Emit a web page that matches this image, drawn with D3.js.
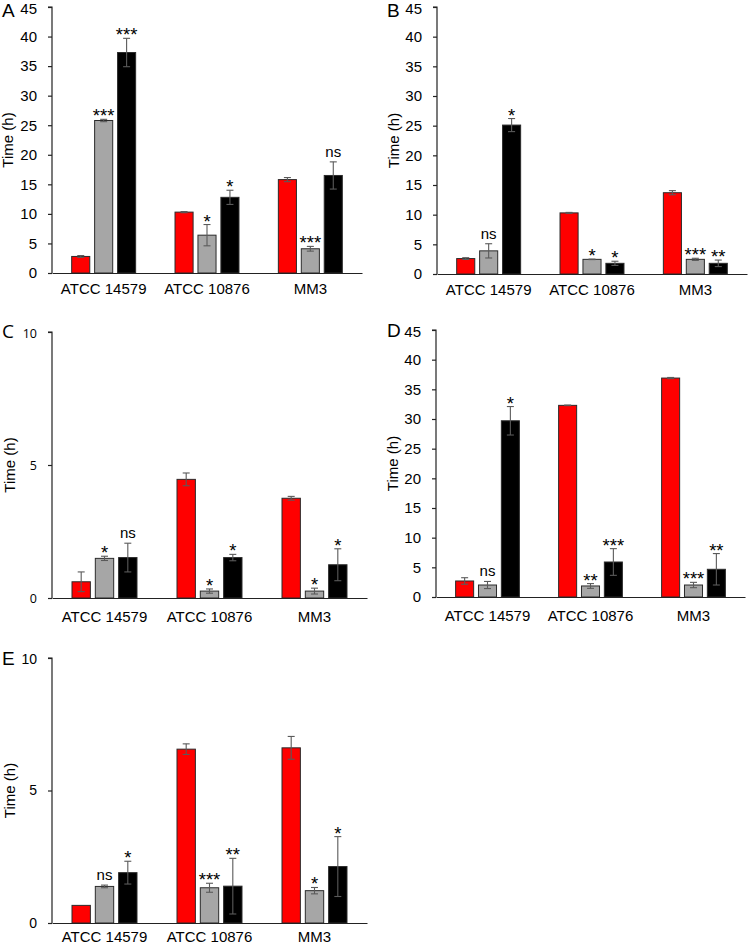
<!DOCTYPE html>
<html>
<head>
<meta charset="utf-8">
<script src="https://cdn.jsdelivr.net/npm/d3@7/dist/d3.min.js"></script>
<style>
  html, body { margin: 0; padding: 0; background: #fff; }
  svg { display: block; }
</style>
</head>
<body>
<svg id="chart" width="750" height="948"></svg>
<script>
// ---------- data ----------
const categories = ["ATCC 14579", "ATCC 10876", "MM3"];
const seriesNames = ["red", "gray", "black"];
const ticks45 = [0, 5, 10, 15, 20, 25, 30, 35, 40, 45];
const ticks10 = [0, 5, 10];

// rows = categories, columns = [red, gray, black]
const valuesA = [[2.8, 25.8, 37.3], [10.3, 6.4, 12.8], [15.8, 4.1, 16.5]];
const errorsA = [[0.15, 0.2, 2.4], [0.1, 1.8, 1.2], [0.35, 0.4, 2.3]];
const signifA = [["", "***", "***"], ["", "*", "*"], ["", "***", "ns"]];

const valuesB = [[2.6, 3.9, 25.1], [10.3, 2.47, 1.8], [13.7, 2.47, 1.8]];
const errorsB = [[0.15, 1.2, 1.1], [0.08, 0.04, 0.35], [0.35, 0.18, 0.55]];
const signifB = [["", "ns", "*"], ["", "*", "*"], ["", "***", "**"]];

const valuesC = [[0.61, 1.49, 1.52], [4.46, 0.26, 1.52], [3.75, 0.26, 1.25]];
const errorsC = [[0.37, 0.08, 0.54], [0.24, 0.08, 0.12], [0.07, 0.11, 0.6]];
const signifC = [["", "*", "ns"], ["", "*", "*"], ["", "*", "*"]];

const valuesD = [[2.7, 2.02, 29.7], [32.3, 1.86, 5.9], [36.9, 2.02, 4.67]];
const errorsD = [[0.55, 0.6, 2.4], [0.05, 0.4, 2.25], [0.1, 0.45, 2.65]];
const signifD = [["", "ns", "*"], ["", "**", "***"], ["", "***", "**"]];

const valuesE = [[0.665, 1.38, 1.9], [6.56, 1.33, 1.39], [6.61, 1.22, 2.13]];
const errorsE = [[0.0, 0.05, 0.43], [0.2, 0.17, 1.05], [0.43, 0.12, 1.13]];
const signifE = [["", "ns", "*"], ["", "***", "**"], ["", "*", "*"]];

// ---------- styling / layout ----------
const colors = { red: "#ff0000", gray: "#a6a6a6", black: "#000000" };
const ARIAL = "'Liberation Sans', Arial, sans-serif";
const OPEN = "'Open Sans', 'Noto Sans', sans-serif";

const panels = [
  { letter: "A", values: valuesA, errors: errorsA, signif: signifA, ticks: ticks45, max: 45,
    left: 52, right: 362, top: 7, bottom: 273, lx: 2, ly: 17, tx: 13, tickFont: ARIAL, tickSize: 15, letterFont: ARIAL, catY: 22 },
  { letter: "B", values: valuesB, errors: errorsB, signif: signifB, ticks: ticks45, max: 45,
    left: 437, right: 747, top: 7, bottom: 274, lx: 387, ly: 17, tx: 399, tickFont: ARIAL, tickSize: 15, letterFont: ARIAL, catY: 22 },
  { letter: "C", values: valuesC, errors: errorsC, signif: signifC, ticks: ticks10, max: 10,
    left: 52, right: 367, top: 332, bottom: 598, lx: 2, ly: 338, tx: 15, tickFont: OPEN, tickSize: 12.5, letterFont: OPEN, catY: 25 },
  { letter: "D", values: valuesD, errors: errorsD, signif: signifD, ticks: ticks45, max: 45,
    left: 436, right: 745, top: 330, bottom: 597, lx: 387, ly: 337, tx: 398, tickFont: ARIAL, tickSize: 15, letterFont: ARIAL, catY: 25 },
  { letter: "E", values: valuesE, errors: errorsE, signif: signifE, ticks: ticks10, max: 10,
    left: 52, right: 367, top: 658, bottom: 923, lx: 2, ly: 665, tx: 15, tickFont: ARIAL, tickSize: 14, letterFont: ARIAL, catY: 20 }
];

const svg = d3.select("#chart");

panels.forEach(p => {
  const g = svg.append("g");
  const x = d3.scaleBand().domain(categories).range([p.left, p.right]);
  const y = d3.scaleLinear().domain([0, p.max]).range([p.bottom, p.top]);
  const step = x.bandwidth();
  const barW = step * 0.175;
  const off = step * 0.222;
  const inner = d3.scaleOrdinal().domain(seriesNames).range([-off, 0, off]);

  // bars
  categories.forEach((cat, ci) => {
    const cx = x(cat) + step / 2;
    seriesNames.forEach((s, si) => {
      const v = p.values[ci][si];
      const e = p.errors[ci][si];
      const bx = cx + inner(s);
      g.append("rect")
        .attr("x", bx - barW / 2)
        .attr("y", y(v))
        .attr("width", barW)
        .attr("height", y(0) - y(v))
        .attr("fill", colors[s])
        .attr("stroke", "#2b2b2b")
        .attr("stroke-width", 1);
      // error bars
      if (e > 0) {
        const eg = g.append("g").attr("stroke", "#5a5a5a").attr("stroke-width", 1.1);
        eg.append("line").attr("x1", bx).attr("x2", bx).attr("y1", y(v - e)).attr("y2", y(v + e));
        eg.append("line").attr("x1", bx - 3.5).attr("x2", bx + 3.5).attr("y1", y(v + e)).attr("y2", y(v + e));
        eg.append("line").attr("x1", bx - 3.5).attr("x2", bx + 3.5).attr("y1", y(v - e)).attr("y2", y(v - e));
      }
      // significance label
      const lab = p.signif[ci][si];
      if (lab) {
        const topY = y(v + e);
        g.append("text")
          .attr("x", bx)
          .attr("y", lab === "ns" ? topY - 5 : topY + 3)
          .attr("text-anchor", "middle")
          .attr("font-family", ARIAL)
          .attr("font-size", lab === "ns" ? 15 : 18.5)
          .attr("fill", "#000")
          .text(lab);
      }
    });
  });

  // y axis
  const yAxis = d3.axisLeft(y).tickValues(p.ticks).tickSize(4).tickPadding(11).tickFormat(d3.format("d"));
  const ya = g.append("g").attr("transform", `translate(${p.left},0)`).call(yAxis);
  ya.select(".domain").attr("stroke", "#222").attr("stroke-width", 1.2).attr("d", `M-4,${p.top}H0V${p.bottom}`);
  ya.selectAll(".tick line").attr("stroke", "#222").attr("stroke-width", 1.2);
  ya.selectAll(".tick text").attr("font-family", p.tickFont).attr("font-size", p.tickSize).attr("fill", "#000")
    .attr("dy", d => d === p.max ? "0.42em" : "0.32em");

  // x axis
  const xAxis = d3.axisBottom(x).tickSize(0).tickPadding(p.catY - 12);
  const xa = g.append("g").attr("transform", `translate(0,${p.bottom})`).call(xAxis);
  xa.select(".domain").attr("stroke", "#222").attr("stroke-width", 1.2);
  xa.selectAll(".tick text").attr("font-family", ARIAL).attr("font-size", 15).attr("fill", "#000");

  // y label
  g.append("text")
    .attr("transform", `translate(${p.tx},${(p.top + p.bottom) / 2}) rotate(-90)`)
    .attr("text-anchor", "middle")
    .attr("font-family", ARIAL)
    .attr("font-size", 15)
    .attr("fill", "#000")
    .text("Time (h)");

  // panel letter
  g.append("text")
    .attr("x", p.lx).attr("y", p.ly)
    .attr("font-family", p.letterFont)
    .attr("font-size", 19)
    .attr("fill", "#000")
    .text(p.letter);
});
</script>
</body>
</html>
